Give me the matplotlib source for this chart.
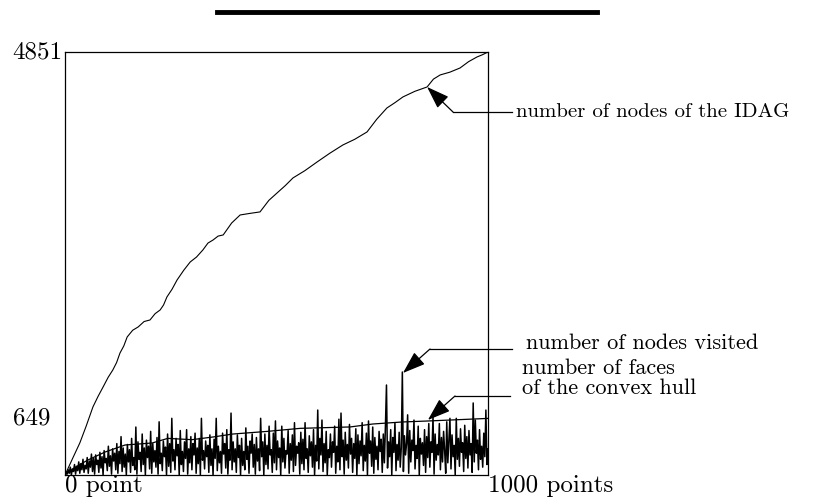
import numpy as np
import matplotlib
matplotlib.use('Agg')
import matplotlib.pyplot as plt
from matplotlib.lines import Line2D
from matplotlib.transforms import blended_transform_factory

plt.rcParams['font.family'] = ['cmr10', 'DejaVu Serif']
plt.rcParams['axes.unicode_minus'] = False

# number of nodes of the IDAG
idag_x = [0, 18, 35, 50, 66, 78, 90, 102, 113, 122, 130, 139, 147, 160, 173, 187, 201, 213, 225,
          233, 241, 253, 265, 281, 296, 311, 326, 338, 350, 362, 374, 394, 414, 437, 461, 482,
          504, 521, 539, 567, 596, 626, 657, 685, 714, 737, 761, 780, 799, 827, 856, 871, 887,
          910, 934, 954, 974, 987, 1000]
idag_y = [0, 190, 367, 560, 780, 900, 1009, 1120, 1204, 1290, 1399, 1480, 1583, 1660, 1698, 1760,
          1778, 1850, 1893, 1950, 2042, 2130, 2237, 2350, 2443, 2500, 2581, 2660, 2695, 2740, 2753,
          2890, 2982, 3000, 3017, 3150, 3246, 3320, 3407, 3490, 3590, 3690, 3785, 3850, 3934, 4080,
          4209, 4270, 4336, 4400, 4450, 4540, 4588, 4620, 4668, 4740, 4794, 4820, 4851]

# number of faces of the convex hull
hull_x = [0, 25, 54, 95, 142, 206, 243, 300, 350, 397, 478, 556, 674, 728, 797, 856, 1000]
hull_y = [0, 90, 172, 264, 344, 367, 420, 405, 436, 470, 500, 535, 551, 585, 608, 619, 649]

# number of nodes visited (one value every 2.5 points)
visited = [0, 30, 10, 60, 20, 90, 0, 70, 40, 120, 10, 100, 50, 150, 20, 130, 60, 180, 30, 110,
           70, 200, 20, 160, 90, 240, 40, 190, 10, 230, 120, 170, 30, 260, 80, 210, 0, 280, 140, 190,
           50, 330, 100, 220, 10, 300, 160, 250, 60, 360, 20, 270, 130, 440, 40, 310, 90, 240, 0, 350,
           150, 290, 30, 420, 110, 200, 60, 550, 10, 380, 180, 260, 40, 470, 120, 310, 0, 400, 200, 330,
           70, 500, 20, 360, 150, 280, 90, 430, 10, 610, 130, 250, 50, 390, 210, 320, 0, 470, 100, 360,
           30, 650, 160, 290, 60, 420, 220, 350, 0, 510, 120, 270, 40, 380, 190, 520, 10, 300, 140, 440,
           60, 360, 230, 480, 20, 310, 130, 420, 0, 650, 170, 280, 70, 390, 210, 340, 30, 460, 110, 300,
           0, 410, 190, 650, 50, 330, 140, 270, 20, 480, 240, 360, 80, 520, 10, 290, 170, 710, 60, 380,
           150, 300, 30, 460, 200, 340, 0, 420, 110, 270, 60, 540, 180, 330, 20, 390, 250, 470, 90, 350,
           10, 430, 160, 300, 50, 650, 210, 380, 0, 470, 120, 340, 70, 560, 230, 290, 30, 480, 140, 620,
           60, 390, 200, 310, 0, 560, 150, 420, 80, 280, 240, 510, 20, 360, 170, 460, 40, 600, 110, 330,
           250, 370, 10, 490, 130, 410, 60, 600, 190, 300, 30, 450, 220, 380, 90, 520, 0, 340, 160, 745,
           70, 420, 230, 630, 40, 360, 140, 500, 0, 290, 200, 470, 90, 380, 260, 560, 20, 330, 150, 640,
           60, 710, 210, 400, 10, 490, 170, 350, 80, 580, 240, 420, 30, 360, 190, 530, 0, 460, 130, 390,
           220, 600, 50, 340, 160, 480, 0, 620, 250, 390, 100, 550, 20, 430, 180, 330, 60, 500, 270, 410,
           30, 470, 140, 560, 1032, 80, 380, 210, 520, 0, 430, 260, 600, 50, 350, 170, 490, 90, 310, 1181,
           40, 450, 230, 360, 690, 20, 510, 150, 400, 280, 630, 70, 340, 190, 560, 0, 420, 240, 370, 110,
           520, 30, 440, 200, 590, 90, 380, 260, 665, 10, 470, 170, 350, 230, 590, 60, 430, 150, 500, 280,
           20, 610, 140, 390, 650, 70, 460, 210, 340, 0, 650, 180, 420, 100, 530, 260, 370, 40, 570, 190,
           440, 80, 510, 230, 360, 30, 826, 150, 630, 250, 400, 60, 520, 180, 330, 90, 480, 210, 745, 120,
           300]
visited_x = np.linspace(0, 1000, len(visited))

y_labels = [649, 4851]

fig = plt.figure(figsize=(8.14, 4.97), dpi=100)
ax = fig.add_axes([65/814, 22/497, 423/814, 423/497])

ax.plot(idag_x, idag_y, color='k', lw=0.8)
ax.plot(hull_x, hull_y, color='k', lw=0.9)
ax.plot(visited_x, visited, color='k', lw=1.1)

ax.set_xlim(0, 1000)
ax.set_ylim(0, 4851)
ax.set_xticks([])
ax.set_yticks([])
for s in ax.spines.values():
    s.set_linewidth(0.9)

# axis labels written as text
trans = blended_transform_factory(fig.transFigure, ax.transData)
ax.text(62/814, y_labels[1], str(y_labels[1]), transform=trans, ha='right', va='center', fontsize=18)
ax.text(50/814, y_labels[0], str(y_labels[0]), transform=trans, ha='right', va='center', fontsize=18)
transx = blended_transform_factory(ax.transData, fig.transFigure)
ax.text(0, 5/497, '0 point', transform=transx, ha='left', va='baseline', fontsize=18)
ax.text(1000, 5/497, '1000 points', transform=transx, ha='left', va='baseline', fontsize=18)

# heavy rule on top
fig.add_artist(Line2D([217/814, 597/814], [485/497, 485/497], color='k', lw=3.5))

# annotations: tip on curve, knee point, horizontal lead
def lead(tip, knee, end):
    ax.annotate('', xy=tip, xycoords='data',
                xytext=(knee[0], 497 - knee[1]), textcoords='figure pixels',
                arrowprops=dict(arrowstyle='-|>,head_length=1.0,head_width=0.35',
                                color='k', lw=0.9, mutation_scale=14, shrinkA=0, shrinkB=0))
    fig.add_artist(Line2D([knee[0]/814, end/814], [(497 - knee[1])/497]*2, color='k', lw=0.9))

lead((856, 4450), (453, 112), 512)
lead((799, 1170), (430, 349), 512)
lead((858, 631), (455, 396), 510)
fig.text(516/814, (497 - 112)/497, 'number of nodes of the IDAG', ha='left', va='center', fontsize=15)
fig.text(526/814, (497 - 343)/497, 'number of nodes visited', ha='left', va='center', fontsize=16)
fig.text(522/814, (497 - 368)/497, 'number of faces', ha='left', va='center', fontsize=16)
fig.text(522/814, (497 - 388)/497, 'of the convex hull', ha='left', va='center', fontsize=16)

fig.savefig('out.png', dpi=100)
